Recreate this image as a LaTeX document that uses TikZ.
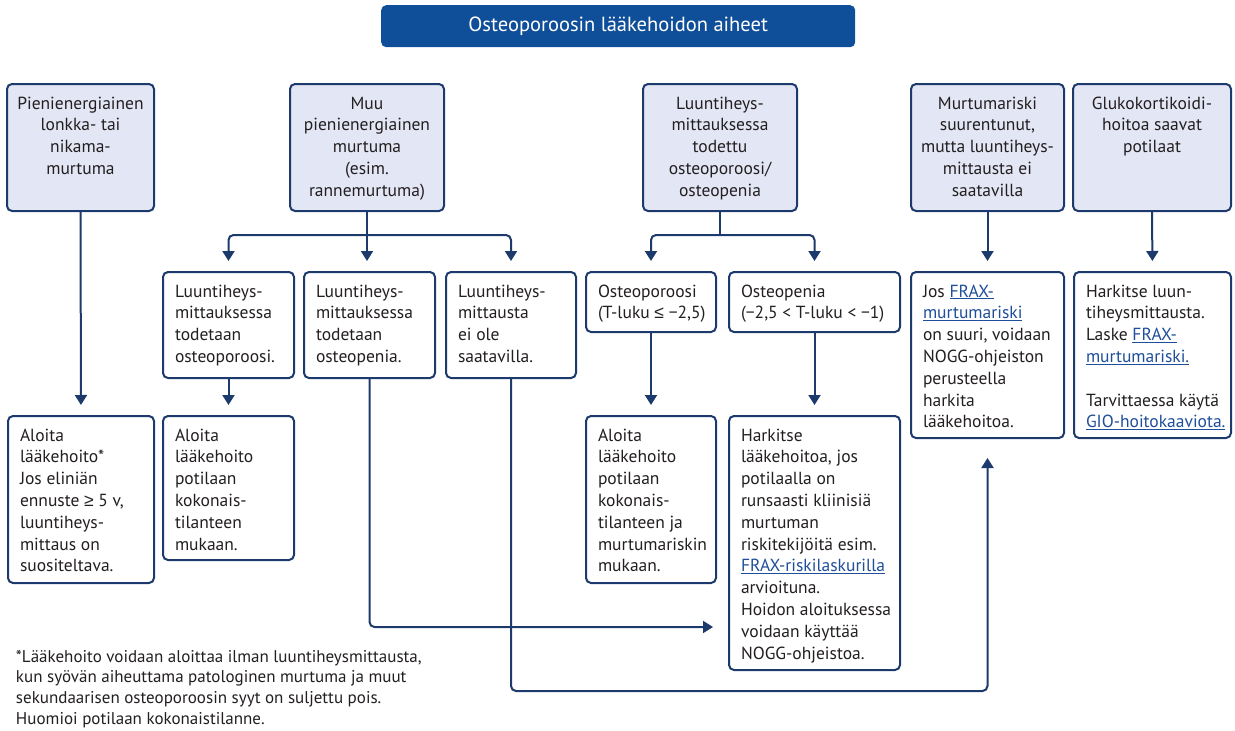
\documentclass[tikz,border=0pt]{standalone}
\usepackage{fontspec}
\setmainfont{PT Sans}
\newfontfamily\symf{Liberation Sans}
\usetikzlibrary{arrows.meta}
\definecolor{navy}{HTML}{1C3A6B}
\definecolor{titleblue}{HTML}{0F4E98}
\definecolor{boxfill}{HTML}{E3E6F4}
\definecolor{txt}{HTML}{231F20}
\definecolor{linkc}{HTML}{1F4E9A}
\newcommand\lnk[1]{\textcolor{linkc}{\underline{#1}}}
\newcommand\mkbox[6][plainbox]{\node[#1, minimum width={(#5-#3)*1pt}, minimum height={(#6-#4)*1pt}, anchor=north west] (#2) at (#3,#4) {};}
\newcommand\ltext[2]{\node[lbl, anchor=base west] (#1t) at ([xshift=12pt,yshift=-25pt]#1.north west) {\parbox[t]{300pt}{\raggedright #2}};}
\newcommand\ctext[2]{\node[lbl, anchor=base] (#1t) at ([yshift=-25pt]#1.north) {\parbox[t]{200pt}{\centering #2}};}
\tikzset{
 plainbox/.style={draw=navy, line width=2pt, rounded corners=5pt, inner sep=0pt, outer sep=0pt, fill=white},
 topbox/.style={plainbox, fill=boxfill},
 conn/.style={draw=navy, line width=2pt, rounded corners=5pt},
 arr/.style={conn, -{Triangle[width=12pt,length=10pt]}, shorten >=11pt},
 lbl/.style={inner sep=0pt, outer sep=0pt, text=txt, font=\fontsize{17.5}{21.8}\selectfont},
}
\begin{document}
\begin{tikzpicture}[x=1pt,y=-1pt]
\useasboundingbox (0,0) rectangle (1235,731);
% title
\node[fill=titleblue, rounded corners=5pt, minimum width=474pt, minimum height=42pt, inner sep=0pt, anchor=north west, text=white, font=\fontsize{20.5}{24}\selectfont] (title) at (381,5) {Osteoporoosin lääkehoidon aiheet};
% row 1
\mkbox[topbox]{A}{7}{84}{154}{211}
\mkbox[topbox]{B}{290}{84}{444}{211}
\mkbox[topbox]{C}{643}{84}{797}{211}
\mkbox[topbox]{D}{911}{84}{1064}{211}
\mkbox[topbox]{E}{1073}{84}{1231}{211}
% row 2
\mkbox{F}{163}{272}{294}{378}
\mkbox{G}{304}{272}{435}{378}
\mkbox{H}{446}{272}{576}{378}
\mkbox{I}{586}{272}{716}{332}
\mkbox{J}{729}{272}{900}{332}
\mkbox{K}{911}{272}{1064}{438}
\mkbox{L}{1074}{272}{1231}{438}
% row 3
\mkbox{M}{8}{416}{154}{583}
\mkbox{N}{163}{416}{294}{560}
\mkbox{O}{586}{416}{716}{583}
\mkbox{P}{729}{416}{900}{670}
% texts
\ctext{A}{Pienienergiainen\\lonkka- tai\\nikama-\\murtuma}
\ctext{B}{Muu\\pienienergiainen\\murtuma\\(esim.\\rannemurtuma)}
\ctext{C}{Luuntiheys-\\mittauksessa\\todettu\\osteoporoosi/\\osteopenia}
\ctext{D}{Murtumariski\\suurentunut,\\mutta luuntiheys-\\mittausta ei\\saatavilla}
\ctext{E}{Glukokortikoidi-\\hoitoa saavat\\potilaat}
\ltext{F}{Luuntiheys-\\mittauksessa\\todetaan\\osteoporoosi.}
\ltext{G}{Luuntiheys-\\mittauksessa\\todetaan\\osteopenia.}
\ltext{H}{Luuntiheys-\\mittausta\\ei ole\\saatavilla.}
\ltext{I}{Osteoporoosi\\(T-luku {\symf ≤} −2,5)}
\ltext{J}{Osteopenia\\(−2,5 < T-luku < −1)}
\ltext{K}{Jos \lnk{FRAX-}\\\lnk{murtumariski}\\on suuri, voidaan\\NOGG-ohjeiston\\perusteella\\harkita\\lääkehoitoa.}
\ltext{L}{Harkitse luun-\\tiheysmittausta.\\Laske \lnk{FRAX-}\\\lnk{murtumariski.}\\[21.8pt]Tarvittaessa käytä\\\lnk{GIO-hoitokaaviota.}}
\ltext{M}{Aloita\\lääkehoito*\\Jos eliniän\\ennuste {\symf ≥} 5 v,\\luuntiheys-\\mittaus on\\suositeltava.}
\ltext{N}{Aloita\\lääkehoito\\potilaan\\kokonais-\\tilanteen\\mukaan.}
\ltext{O}{Aloita\\lääkehoito\\potilaan\\kokonais-\\tilanteen ja\\murtumariskin\\mukaan.}
\ltext{P}{Harkitse\\lääkehoitoa, jos\\potilaalla on\\runsaasti kliinisiä\\murtuman\\riskitekijöitä esim.\\\lnk{FRAX-riskilaskurilla}\\arvioituna.\\Hoidon aloituksessa\\voidaan käyttää\\NOGG-ohjeistoa.}
% footnote
\node[lbl, font=\fontsize{17}{20.8}\selectfont, anchor=base west] (note) at (16,662) {\parbox[t]{500pt}{\raggedright *Lääkehoito voidaan aloittaa ilman luuntiheysmittausta,\\kun syövän aiheuttama patologinen murtuma ja muut\\sekundaarisen osteoporoosin syyt on suljettu pois.\\Huomioi potilaan kokonaistilanne.}};
% connectors
\draw[arr] (A.south) -- (M.north);
\draw[conn] (B.south) -- ++(0,24) coordinate (bB);
\draw[arr] (bB) -| (F.north);
\draw[arr] (bB) -- (bB |- G.north);
\draw[arr] (bB) -| (H.north);
\draw[arr] (F.south) -- (N.north);
\draw[conn] (C.south) -- ++(0,24) coordinate (bC);
\draw[arr] (bC) -| (I.north);
\draw[arr] (bC) -| (J.north);
\draw[arr] (D.south) -- (K.north);
\draw[arr] (E.south) -- (L.north);
\draw[arr] (I.south) -- (O.north);
\draw[arr] (J.south) -- (P.north);
\draw[arr, shorten >=16pt] (G.south) |- ([yshift=-84pt]P.west);
\draw[arr, shorten >=20pt] (H.south) -- ++(0,313) -| (K.south);
\end{tikzpicture}
\end{document}
